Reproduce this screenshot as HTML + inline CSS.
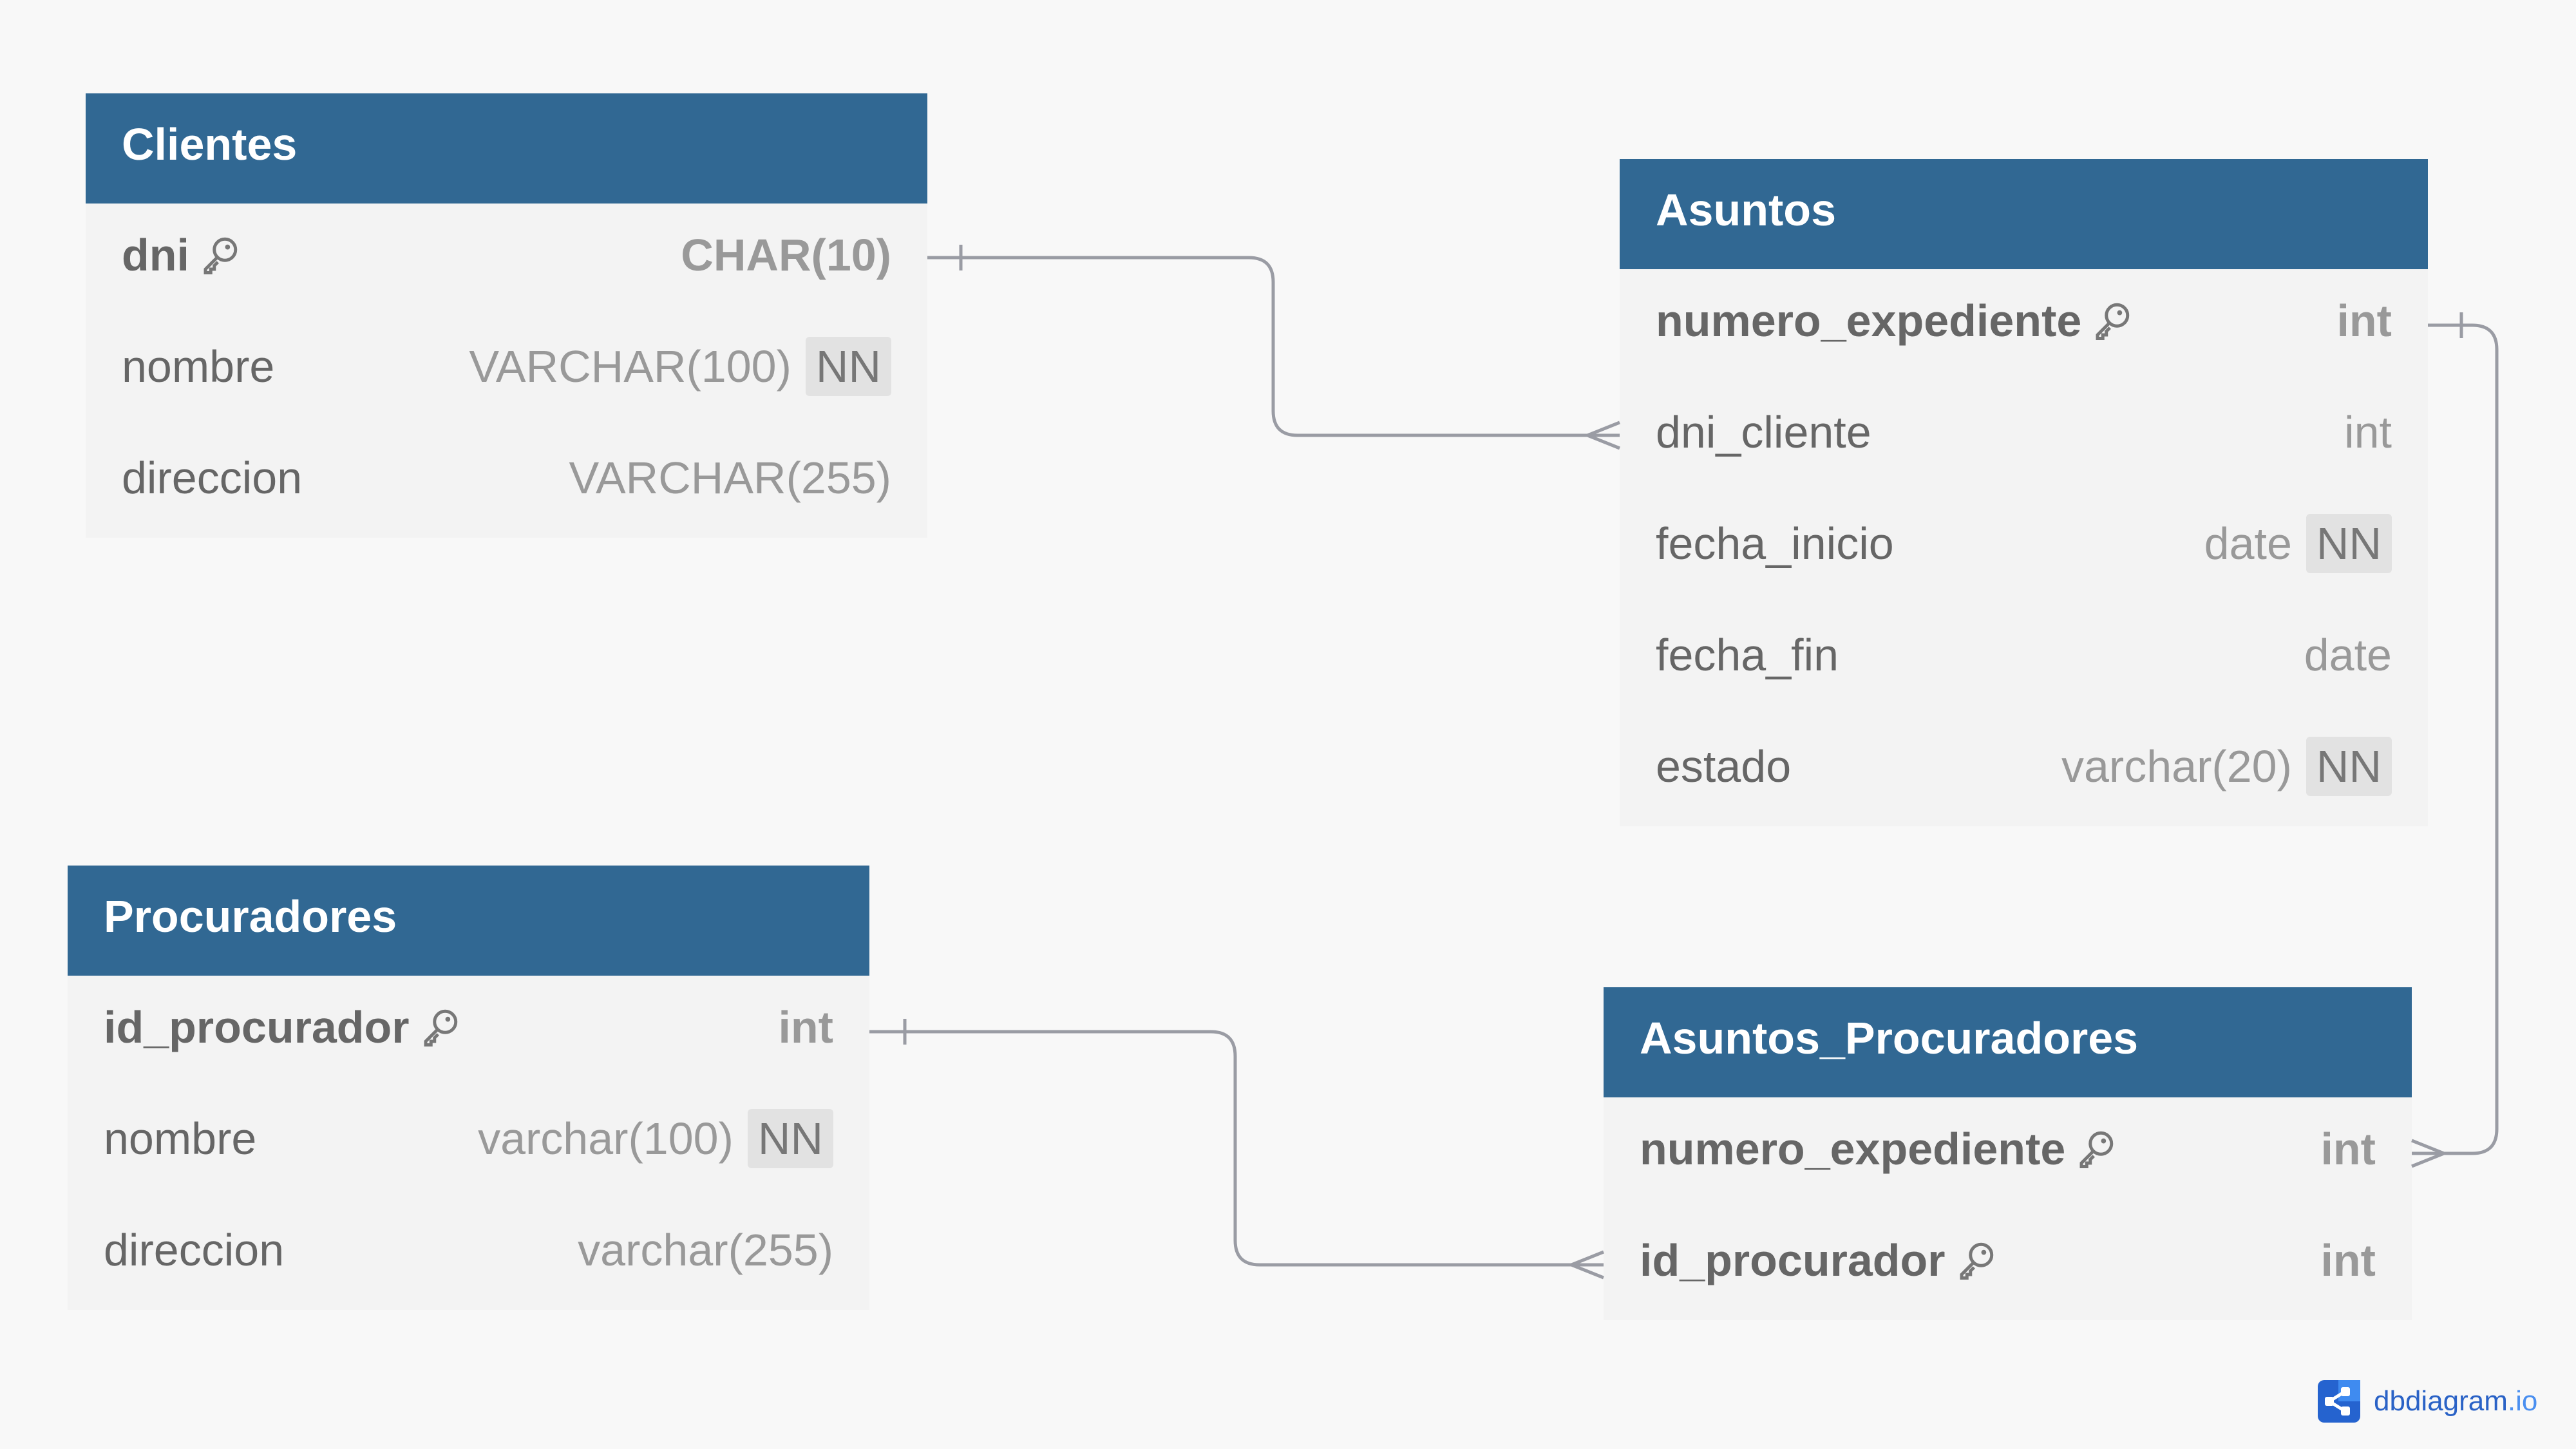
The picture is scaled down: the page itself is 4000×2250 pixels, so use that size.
<!DOCTYPE html>
<html><head><meta charset="utf-8"><style>
body{margin:0;width:4000px;height:2250px;background:#f8f8f8;position:relative;overflow:hidden;font-family:"Liberation Sans",sans-serif}
.t{position:absolute;background:#f3f3f3}
.h{height:171px;background:#316893;color:#fff;font-weight:bold;font-size:70px;line-height:159px;padding-left:56px;box-sizing:border-box}
.r{height:173px;position:relative;font-size:70px;line-height:161px;color:#666;padding:0 56px;box-sizing:border-box}
.r .ty{position:absolute;right:56px;top:0;color:#999}
.b{font-weight:bold}
.nn{display:inline-block;background:#e2e2e2;color:#777;padding:0 16px;line-height:92px;border-radius:6px;margin-left:22px}
.k{display:inline-block;width:66px;height:70px;vertical-align:middle;margin-left:14px;position:relative;top:-6px}
</style></head><body>
<svg width="0" height="0" style="position:absolute"><defs><symbol id="key" viewBox="0 0 24 24"><circle cx="15" cy="9" r="6" fill="none" stroke="#777" stroke-width="1.8"/><circle cx="16.5" cy="7.5" r="1.4" fill="#777"/><path d="M11 13 L4 20 L4 22 L7 22 L7 20 L9 20 L9 18 L11 16" fill="none" stroke="#777" stroke-width="1.8"/></symbol></defs></svg>

<div class="t" style="left:133px;top:145px;width:1307px">
<div class="h">Clientes</div>
<div class="r"><span class="b">dni</span><svg class="k"><use href="#key"/></svg><span class="ty b">CHAR(10)</span></div>
<div class="r">nombre<span class="ty">VARCHAR(100)<span class="nn">NN</span></span></div>
<div class="r">direccion<span class="ty">VARCHAR(255)</span></div>
</div>

<div class="t" style="left:2515px;top:247px;width:1255px">
<div class="h">Asuntos</div>
<div class="r"><span class="b">numero_expediente</span><svg class="k"><use href="#key"/></svg><span class="ty b">int</span></div>
<div class="r">dni_cliente<span class="ty">int</span></div>
<div class="r">fecha_inicio<span class="ty">date<span class="nn">NN</span></span></div>
<div class="r">fecha_fin<span class="ty">date</span></div>
<div class="r">estado<span class="ty">varchar(20)<span class="nn">NN</span></span></div>
</div>

<div class="t" style="left:105px;top:1344px;width:1245px">
<div class="h">Procuradores</div>
<div class="r"><span class="b">id_procurador</span><svg class="k"><use href="#key"/></svg><span class="ty b">int</span></div>
<div class="r">nombre<span class="ty">varchar(100)<span class="nn">NN</span></span></div>
<div class="r">direccion<span class="ty">varchar(255)</span></div>
</div>

<div class="t" style="left:2490px;top:1533px;width:1255px">
<div class="h">Asuntos_Procuradores</div>
<div class="r"><span class="b">numero_expediente</span><svg class="k"><use href="#key"/></svg><span class="ty b">int</span></div>
<div class="r"><span class="b">id_procurador</span><svg class="k"><use href="#key"/></svg><span class="ty b">int</span></div>
</div>

<svg style="position:absolute;left:0;top:0" width="4000" height="2250" fill="none" stroke="#9a9ca4" stroke-width="5">
<path d="M1440 400 H1939 Q1977 400 1977 438 V638 Q1977 676 2015 676 H2515"/>
<path d="M1492 380 V420"/>
<path d="M2515 656 L2465 676 L2515 696"/>
<path d="M3770 505 H3839 Q3877 505 3877 543 V1753 Q3877 1791 3839 1791 H3745"/>
<path d="M3822 485 V525"/>
<path d="M3745 1771 L3795 1791 L3745 1811"/>
<path d="M1350 1602 H1880 Q1918 1602 1918 1640 V1926 Q1918 1964 1956 1964 H2490"/>
<path d="M1405 1582 V1622"/>
<path d="M2490 1944 L2440 1964 L2490 1984"/>
</svg>

<svg style="position:absolute;left:3599px;top:2143px" width="66" height="66" viewBox="0 0 66 66">
<rect width="66" height="66" rx="10" fill="#2563cf"/>
<rect x="32" width="34" height="33" fill="#3f8bf0"/>
<path d="M18 33 L42 18 M18 33 L42 48" stroke="#fff" stroke-width="5"/>
<rect x="11" y="26" width="14" height="14" rx="3" fill="#fff"/>
<rect x="36" y="11" width="14" height="14" rx="3" fill="#fff"/>
<rect x="36" y="41" width="14" height="14" rx="3" fill="#fff"/>
</svg>
<div style="position:absolute;left:3686px;top:2148px;font-size:44px;color:#2a62c6;line-height:56px">dbdiagram<span style="color:#4a8ff0">.io</span></div>
</body></html>
